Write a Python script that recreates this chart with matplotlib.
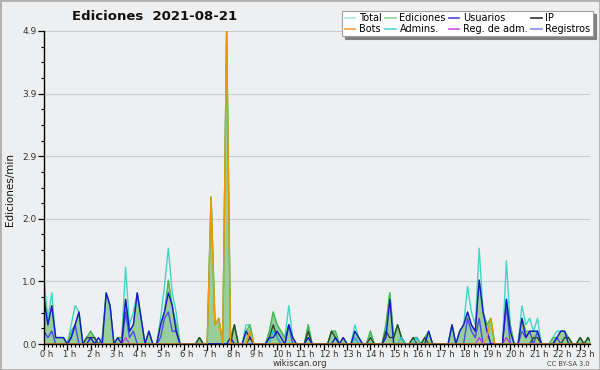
import numpy as np
import matplotlib
matplotlib.use('Agg')
import matplotlib.pyplot as plt
from matplotlib.lines import Line2D
from matplotlib.patches import Rectangle
from matplotlib.ticker import FixedLocator, MultipleLocator, FormatStrFormatter
from matplotlib.transforms import ScaledTranslation

# 10-minute slots, 6 per hour, 2 hours per row
total = [
    1.0, 0.4, 0.8, 0.1, 0.1, 0.1, 0.0, 0.3, 0.6, 0.5, 0.0, 0.1,
    0.2, 0.1, 0.0, 0.1, 0.8, 0.6, 0.0, 0.1, 0.1, 1.2, 0.3, 0.5,
    0.8, 0.4, 0.0, 0.2, 0.0, 0.0, 0.4, 0.9, 1.5, 0.8, 0.5, 0.0,
    0.0, 0.0, 0.0, 0.0, 0.1, 0.0, 0.0, 2.3, 0.3, 0.4, 0.0, 4.9,
    0.1, 0.3, 0.0, 0.0, 0.3, 0.3, 0.0, 0.0, 0.0, 0.0, 0.2, 0.5,
    0.3, 0.2, 0.1, 0.6, 0.1, 0.0, 0.0, 0.0, 0.3, 0.0, 0.0, 0.0,
    0.0, 0.0, 0.2, 0.2, 0.0, 0.1, 0.0, 0.0, 0.3, 0.1, 0.0, 0.0,
    0.2, 0.0, 0.0, 0.0, 0.3, 0.8, 0.1, 0.3, 0.1, 0.0, 0.0, 0.1,
    0.1, 0.0, 0.1, 0.2, 0.0, 0.0, 0.0, 0.0, 0.0, 0.3, 0.0, 0.2,
    0.3, 0.9, 0.5, 0.3, 1.5, 0.5, 0.3, 0.4, 0.0, 0.0, 0.0, 1.3,
    0.3, 0.0, 0.0, 0.6, 0.3, 0.4, 0.2, 0.4, 0.0, 0.0, 0.0, 0.1,
    0.2, 0.2, 0.2, 0.1, 0.0, 0.0, 0.1, 0.0, 0.1, 0.0, 0.0, 0.0,
]
ediciones = [
    0.8, 0.3, 0.6, 0.1, 0.1, 0.1, 0.0, 0.2, 0.3, 0.5, 0.0, 0.1,
    0.2, 0.1, 0.0, 0.1, 0.8, 0.6, 0.0, 0.1, 0.1, 0.7, 0.2, 0.3,
    0.8, 0.4, 0.0, 0.2, 0.0, 0.0, 0.3, 0.5, 1.0, 0.6, 0.3, 0.0,
    0.0, 0.0, 0.0, 0.0, 0.1, 0.0, 0.0, 2.3, 0.3, 0.4, 0.0, 4.9,
    0.1, 0.3, 0.0, 0.0, 0.2, 0.3, 0.0, 0.0, 0.0, 0.0, 0.2, 0.5,
    0.3, 0.2, 0.1, 0.3, 0.1, 0.0, 0.0, 0.0, 0.3, 0.0, 0.0, 0.0,
    0.0, 0.0, 0.2, 0.2, 0.0, 0.1, 0.0, 0.0, 0.2, 0.1, 0.0, 0.0,
    0.2, 0.0, 0.0, 0.0, 0.3, 0.8, 0.1, 0.3, 0.1, 0.0, 0.0, 0.1,
    0.1, 0.0, 0.1, 0.2, 0.0, 0.0, 0.0, 0.0, 0.0, 0.3, 0.0, 0.2,
    0.3, 0.5, 0.3, 0.2, 1.0, 0.5, 0.3, 0.4, 0.0, 0.0, 0.0, 0.7,
    0.3, 0.0, 0.0, 0.4, 0.2, 0.2, 0.2, 0.2, 0.0, 0.0, 0.0, 0.1,
    0.1, 0.2, 0.2, 0.1, 0.0, 0.0, 0.1, 0.0, 0.1, 0.0, 0.0, 0.0,
]
usuarios = [
    0.7, 0.3, 0.6, 0.1, 0.1, 0.1, 0.0, 0.1, 0.3, 0.5, 0.0, 0.0,
    0.1, 0.0, 0.1, 0.0, 0.8, 0.6, 0.0, 0.1, 0.0, 0.7, 0.2, 0.3,
    0.8, 0.4, 0.0, 0.2, 0.0, 0.0, 0.3, 0.5, 0.8, 0.6, 0.2, 0.0,
    0.0, 0.0, 0.0, 0.0, 0.0, 0.0, 0.0, 0.0, 0.0, 0.0, 0.0, 0.0,
    0.1, 0.0, 0.0, 0.0, 0.2, 0.1, 0.0, 0.0, 0.0, 0.0, 0.1, 0.1,
    0.2, 0.1, 0.0, 0.3, 0.1, 0.0, 0.0, 0.0, 0.1, 0.0, 0.0, 0.0,
    0.0, 0.0, 0.0, 0.1, 0.0, 0.1, 0.0, 0.0, 0.2, 0.1, 0.0, 0.0,
    0.0, 0.0, 0.0, 0.0, 0.1, 0.7, 0.0, 0.0, 0.0, 0.0, 0.0, 0.0,
    0.0, 0.0, 0.0, 0.2, 0.0, 0.0, 0.0, 0.0, 0.0, 0.3, 0.0, 0.2,
    0.3, 0.5, 0.3, 0.2, 1.0, 0.5, 0.2, 0.0, 0.0, 0.0, 0.0, 0.7,
    0.2, 0.0, 0.0, 0.4, 0.1, 0.2, 0.2, 0.2, 0.0, 0.0, 0.0, 0.0,
    0.1, 0.2, 0.2, 0.0, 0.0, 0.0, 0.0, 0.0, 0.0, 0.0, 0.0, 0.0,
]
ip = [
    0.0, 0.0, 0.0, 0.0, 0.0, 0.0, 0.0, 0.0, 0.0, 0.0, 0.0, 0.1,
    0.1, 0.1, 0.0, 0.0, 0.0, 0.0, 0.0, 0.0, 0.0, 0.0, 0.0, 0.0,
    0.0, 0.0, 0.0, 0.0, 0.0, 0.0, 0.0, 0.0, 0.0, 0.0, 0.0, 0.0,
    0.0, 0.0, 0.0, 0.0, 0.1, 0.0, 0.0, 0.0, 0.0, 0.0, 0.0, 0.0,
    0.0, 0.3, 0.0, 0.0, 0.0, 0.1, 0.0, 0.0, 0.0, 0.0, 0.1, 0.3,
    0.1, 0.0, 0.0, 0.0, 0.0, 0.0, 0.0, 0.0, 0.2, 0.0, 0.0, 0.0,
    0.0, 0.0, 0.2, 0.1, 0.0, 0.0, 0.0, 0.0, 0.0, 0.0, 0.0, 0.0,
    0.1, 0.0, 0.0, 0.0, 0.2, 0.1, 0.1, 0.3, 0.1, 0.0, 0.0, 0.1,
    0.0, 0.0, 0.1, 0.0, 0.0, 0.0, 0.0, 0.0, 0.0, 0.0, 0.0, 0.0,
    0.0, 0.0, 0.0, 0.0, 0.0, 0.0, 0.0, 0.0, 0.0, 0.0, 0.0, 0.0,
    0.0, 0.0, 0.0, 0.0, 0.0, 0.0, 0.1, 0.1, 0.0, 0.0, 0.0, 0.0,
    0.0, 0.0, 0.1, 0.1, 0.0, 0.0, 0.1, 0.0, 0.1, 0.0, 0.0, 0.0,
]
bots = [
    0.0, 0.0, 0.0, 0.0, 0.0, 0.0, 0.0, 0.0, 0.0, 0.0, 0.0, 0.0,
    0.0, 0.0, 0.0, 0.0, 0.0, 0.0, 0.0, 0.0, 0.0, 0.0, 0.0, 0.0,
    0.0, 0.0, 0.0, 0.0, 0.0, 0.0, 0.0, 0.0, 0.0, 0.0, 0.0, 0.0,
    0.0, 0.0, 0.0, 0.0, 0.0, 0.0, 0.0, 2.3, 0.3, 0.4, 0.0, 4.9,
    0.0, 0.0, 0.0, 0.0, 0.0, 0.2, 0.0, 0.0, 0.0, 0.0, 0.0, 0.0,
    0.0, 0.0, 0.0, 0.0, 0.0, 0.0, 0.0, 0.0, 0.0, 0.0, 0.0, 0.0,
    0.0, 0.0, 0.0, 0.0, 0.0, 0.0, 0.0, 0.0, 0.0, 0.0, 0.0, 0.0,
    0.0, 0.0, 0.0, 0.0, 0.0, 0.0, 0.0, 0.0, 0.0, 0.0, 0.0, 0.0,
    0.0, 0.0, 0.0, 0.0, 0.0, 0.0, 0.0, 0.0, 0.0, 0.0, 0.0, 0.0,
    0.0, 0.0, 0.0, 0.0, 0.0, 0.0, 0.1, 0.4, 0.0, 0.0, 0.0, 0.0,
    0.0, 0.0, 0.0, 0.0, 0.0, 0.0, 0.0, 0.0, 0.0, 0.0, 0.0, 0.0,
    0.0, 0.0, 0.0, 0.0, 0.0, 0.0, 0.0, 0.0, 0.0, 0.0, 0.0, 0.0,
]
admins = [
    0.0, 0.0, 0.0, 0.0, 0.0, 0.0, 0.0, 0.0, 0.0, 0.0, 0.0, 0.0,
    0.0, 0.0, 0.0, 0.0, 0.0, 0.0, 0.0, 0.0, 0.0, 0.0, 0.0, 0.0,
    0.0, 0.0, 0.0, 0.0, 0.0, 0.0, 0.0, 0.0, 0.0, 0.0, 0.0, 0.0,
    0.0, 0.0, 0.0, 0.0, 0.0, 0.0, 0.0, 0.0, 0.0, 0.0, 0.0, 0.0,
    0.0, 0.0, 0.0, 0.0, 0.0, 0.0, 0.0, 0.0, 0.0, 0.0, 0.0, 0.2,
    0.1, 0.0, 0.0, 0.0, 0.0, 0.0, 0.0, 0.0, 0.0, 0.0, 0.0, 0.0,
    0.0, 0.0, 0.0, 0.0, 0.0, 0.0, 0.0, 0.0, 0.1, 0.0, 0.0, 0.0,
    0.0, 0.0, 0.0, 0.0, 0.0, 0.0, 0.0, 0.0, 0.1, 0.0, 0.0, 0.0,
    0.1, 0.0, 0.0, 0.0, 0.0, 0.0, 0.0, 0.0, 0.0, 0.0, 0.0, 0.0,
    0.0, 0.0, 0.0, 0.0, 0.0, 0.0, 0.0, 0.0, 0.0, 0.0, 0.0, 0.0,
    0.0, 0.0, 0.0, 0.0, 0.0, 0.0, 0.0, 0.0, 0.0, 0.0, 0.0, 0.0,
    0.0, 0.0, 0.0, 0.0, 0.0, 0.0, 0.0, 0.0, 0.0, 0.0, 0.0, 0.0,
]
reg_adm = [
    0.0, 0.0, 0.0, 0.0, 0.0, 0.0, 0.0, 0.0, 0.0, 0.0, 0.0, 0.0,
    0.0, 0.0, 0.0, 0.0, 0.0, 0.0, 0.0, 0.0, 0.0, 0.1, 0.0, 0.0,
    0.0, 0.0, 0.0, 0.0, 0.0, 0.0, 0.0, 0.0, 0.0, 0.0, 0.0, 0.0,
    0.0, 0.0, 0.0, 0.0, 0.0, 0.0, 0.0, 0.0, 0.0, 0.0, 0.0, 0.0,
    0.0, 0.0, 0.0, 0.0, 0.0, 0.0, 0.0, 0.0, 0.0, 0.0, 0.0, 0.0,
    0.0, 0.0, 0.0, 0.0, 0.0, 0.0, 0.0, 0.0, 0.0, 0.0, 0.0, 0.0,
    0.0, 0.0, 0.0, 0.0, 0.0, 0.0, 0.0, 0.0, 0.0, 0.0, 0.0, 0.0,
    0.0, 0.0, 0.0, 0.0, 0.0, 0.0, 0.0, 0.0, 0.0, 0.0, 0.0, 0.0,
    0.0, 0.0, 0.0, 0.0, 0.0, 0.0, 0.0, 0.0, 0.0, 0.0, 0.0, 0.0,
    0.0, 0.0, 0.0, 0.0, 0.1, 0.0, 0.0, 0.0, 0.0, 0.0, 0.0, 0.1,
    0.0, 0.0, 0.0, 0.0, 0.0, 0.0, 0.0, 0.0, 0.0, 0.0, 0.0, 0.0,
    0.0, 0.0, 0.0, 0.0, 0.0, 0.0, 0.0, 0.0, 0.0, 0.0, 0.0, 0.0,
]
registros = [
    0.2, 0.1, 0.2, 0.0, 0.0, 0.0, 0.0, 0.1, 0.3, 0.0, 0.0, 0.0,
    0.0, 0.0, 0.0, 0.0, 0.0, 0.0, 0.0, 0.0, 0.0, 0.5, 0.1, 0.2,
    0.0, 0.0, 0.0, 0.0, 0.0, 0.0, 0.1, 0.4, 0.5, 0.2, 0.2, 0.0,
    0.0, 0.0, 0.0, 0.0, 0.0, 0.0, 0.0, 0.0, 0.0, 0.0, 0.0, 0.0,
    0.0, 0.0, 0.0, 0.0, 0.0, 0.0, 0.0, 0.0, 0.0, 0.0, 0.0, 0.0,
    0.0, 0.0, 0.0, 0.3, 0.0, 0.0, 0.0, 0.0, 0.0, 0.0, 0.0, 0.0,
    0.0, 0.0, 0.0, 0.0, 0.0, 0.0, 0.0, 0.0, 0.1, 0.0, 0.0, 0.0,
    0.0, 0.0, 0.0, 0.0, 0.0, 0.0, 0.0, 0.0, 0.0, 0.0, 0.0, 0.0,
    0.0, 0.0, 0.0, 0.0, 0.0, 0.0, 0.0, 0.0, 0.0, 0.0, 0.0, 0.0,
    0.0, 0.4, 0.2, 0.1, 0.4, 0.0, 0.0, 0.0, 0.0, 0.0, 0.0, 0.6,
    0.0, 0.0, 0.0, 0.2, 0.1, 0.2, 0.0, 0.2, 0.0, 0.0, 0.0, 0.0,
    0.1, 0.0, 0.0, 0.0, 0.0, 0.0, 0.0, 0.0, 0.0, 0.0, 0.0, 0.0,
]

hour_labels = ['%d h' % h for h in range(24)]
legend_labels = ['Total', 'Bots', 'Ediciones', 'Admins.', 'Usuarios',
                 'Reg. de adm.', 'IP', 'Registros']
legend_colors = ['#a8e6df', '#f0a040', '#8fd48f', '#55d0e0', '#4848e0',
                 '#d050e0', '#303030', '#8a8af0']

bg = '#eeeff0'
hours = np.arange(len(total)) / 6.0

fig = plt.figure(figsize=(6, 3.7), dpi=100, facecolor=bg)
ax = fig.add_axes([44 / 600, 26 / 370, 546 / 600, 313 / 370])
ax.set_facecolor(bg)

ax.plot(hours, total, color='#3fd6c6', lw=1.0, zorder=3)
ax.fill_between(hours, ediciones, color='#7cc47f', alpha=0.75, lw=0, zorder=2)
ax.plot(hours, ediciones, color='#4cb84c', lw=1.0, zorder=3)
ax.plot(hours, registros, color='#4a4af0', lw=1.0, zorder=4)
ax.plot(hours, usuarios, color='#1818c8', lw=1.0, zorder=5)
ax.plot(hours, ip, color='#274a2a', lw=1.0, zorder=4)
ax.plot(hours, admins, color='#30bce0', lw=1.0, zorder=4)
ax.plot(hours, reg_adm, color='#c040e0', lw=1.0, zorder=4)
ax.plot(hours, bots, color='#f09a00', lw=1.0, zorder=6)

ymax = 4.9
ax.set_xlim(0, 23.42)
ax.set_ylim(0, ymax)
ax.yaxis.set_major_locator(FixedLocator([ymax * i / 5 for i in range(6)]))
ax.yaxis.set_major_formatter(FormatStrFormatter('%.1f'))
ax.yaxis.set_minor_locator(MultipleLocator(ymax / 20))
ax.xaxis.set_major_locator(FixedLocator(range(24)))
ax.set_xticklabels(hour_labels)
ax.xaxis.set_minor_locator(MultipleLocator(1 / 6))
ax.grid(axis='y', which='major', color='#cccccc', lw=0.8, zorder=0)

for side in ['top', 'right']:
    ax.spines[side].set_visible(False)
for side in ['left', 'bottom']:
    ax.spines[side].set_linewidth(1.0)
    ax.spines[side].set_zorder(7)
ax.tick_params(which='major', direction='out', length=4, width=0.9,
               labelsize=6.5, labelcolor='#333333', pad=1.5)
ax.tick_params(axis='x', which='major', labelsize=6.0, pad=0.5)
ax.tick_params(which='minor', direction='out', length=2.5, width=0.8)
shift = ScaledTranslation(-4 / 100, 0, fig.dpi_scale_trans)
for lbl in ax.get_xticklabels():
    lbl.set_ha('left')
    lbl.set_transform(lbl.get_transform() + shift)

handles = [Line2D([], [], color=c, lw=1.2) for c in legend_colors]
leg = fig.legend(handles, legend_labels, ncol=4, loc='upper right',
                 bbox_to_anchor=(593 / 600, 1 - 11 / 370), fontsize=7.0,
                 frameon=True, fancybox=False, shadow={'color': '#808080', 'alpha': 1},
                 handlelength=1.1, handletextpad=0.4, columnspacing=0.3,
                 labelspacing=0.05, borderpad=0.25, borderaxespad=0)
leg.get_frame().set_edgecolor('#a0a0a0')
leg.get_frame().set_linewidth(0.8)
leg.set_zorder(10)

fig.text(155 / 600, 1 - 16 / 370, 'Ediciones  2021-08-21', ha='center', va='center',
         fontsize=9.5, fontweight='bold', color='#111111')
fig.text(10 / 600, 1 - 190 / 370, 'Ediciones/min', rotation=90, ha='center',
         va='center', fontsize=7.5, color='#111111')
fig.text(0.5, 1 - 363 / 370, 'wikiscan.org', ha='center', va='center',
         fontsize=6.3, color='#333333')
fig.text(590 / 600, 1 - 364 / 370, 'CC BY-SA 3.0', ha='right', va='center',
         fontsize=4.8, color='#444444')

fig.patches.append(Rectangle((0, 0), 1, 1, transform=fig.transFigure, fill=False,
                             edgecolor='#b0b0b0', lw=2.0, zorder=0))

fig.savefig('out.png', dpi=100, facecolor=bg)
